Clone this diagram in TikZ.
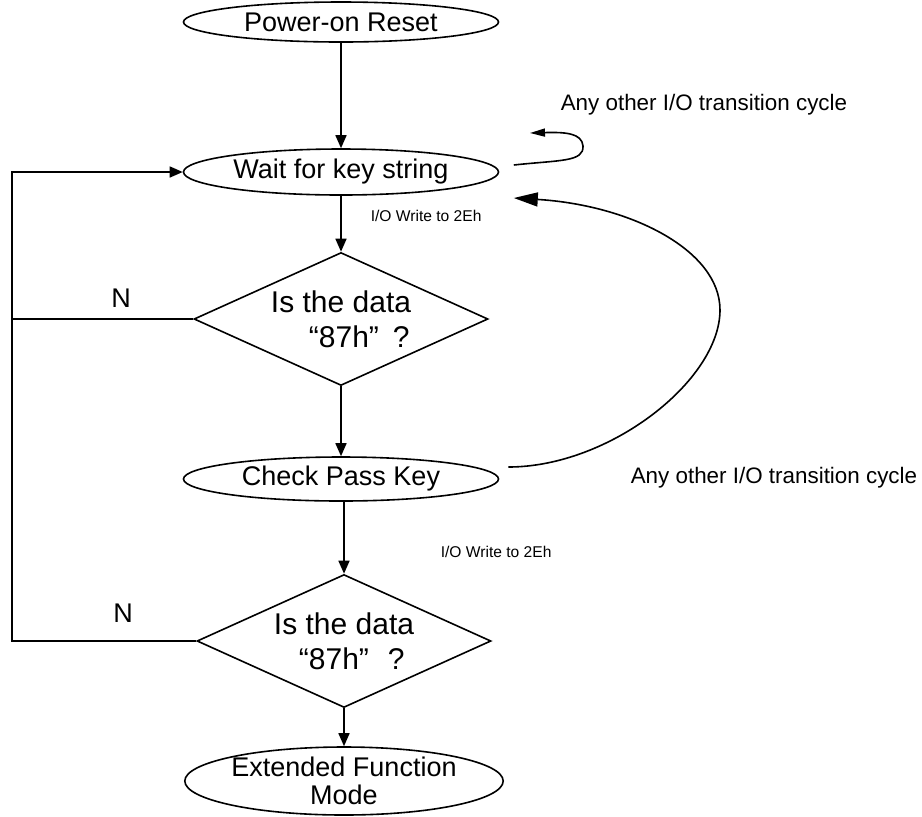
\documentclass[tikz,border=0pt]{standalone}
\usepackage{fontspec}
\setmainfont{Liberation Sans}
\usetikzlibrary{shapes.geometric,arrows.meta}

\begin{document}
\begin{tikzpicture}[x=.5pt, y=-.5pt, line width=.8pt, >={Triangle[length=6.5pt,width=5.5pt]},
   every node/.style={font=\fontsize{13.5}{16}\selectfont},
   stage/.style={ellipse, draw, inner sep=0pt, minimum width=157.5pt, minimum height=#1},
   stage/.default=20pt,
   query/.style={diamond, draw, inner sep=0pt, shape aspect=2.2, minimum width=147pt,
      minimum height=66.5pt, align=left, font=\fontsize{15}{17.5}\selectfont},
   small/.style={font=\fontsize{7.8}{9}\selectfont, anchor=west, inner sep=0pt},
   side/.style={font=\fontsize{11.2}{13}\selectfont, anchor=west, inner sep=0pt}]
\useasboundingbox (0,0) rectangle (922,816);

\node[stage] (reset) at (341,22){Power-on Reset};
\node[stage=23pt] (wait) at (341,172){Wait for key string};
\node[query] (ask1) at (341,319){Is the data\\\hspace*{19pt}“87h”\hspace{7pt}?};
\node[stage=22pt] (check) at (341,479){Check Pass Key};
\node[query] (ask2) at (344,641){Is the data\\\hspace*{12.5pt}“87h”\hspace{9.5pt}?};
\node[stage=34pt, align=center, font=\fontsize{13.5}{14}\selectfont] (ext) at (344,781){Extended Function\\Mode};

\draw [->](reset)--(wait);
\draw [->](wait)--(ask1);
\draw [->](ask1)--(check);
\draw [->](check.south -| ask2.north)--(ask2.north);
\draw [->](ask2)--(ext);

\coordinate (rail) at (12,0);
\draw (ask2.west)--(ask2.west -| rail)--(ask1.west -| rail);
\draw [->](ask1.west)--(ask1.west -| rail) |- (wait.west);

\coordinate (loopend) at (530,133);
\draw [->, >={Triangle[length=7.5pt,width=4pt]}]([shift={(14.5,-7)}]wait.east)
   .. controls (560,160) and (584,162) .. (583,146)
   .. controls (582,133) and (565,132) .. (loopend);

\draw [->, >={Triangle[length=12pt,width=7pt]}]([shift={(9,-12)}]check.east)
   .. controls (610,467) and (720,380) .. (720,310)
   .. controls (720,250) and (630,205) .. ([shift={(14.5,26)}]wait.east);

\node (n1) at (121,298){N};
\node (n2) at (123,613){N};

\node[small] (wr1) at (370,216){I/O Write to 2Eh};
\node[small] (wr2) at (440,552){I/O Write to 2Eh};

\node[side] (any1) at (560,105){Any other I/O transition cycle};
\node[side] (any2) at (630,478){Any other I/O transition cycle};
\end{tikzpicture}
\end{document}
